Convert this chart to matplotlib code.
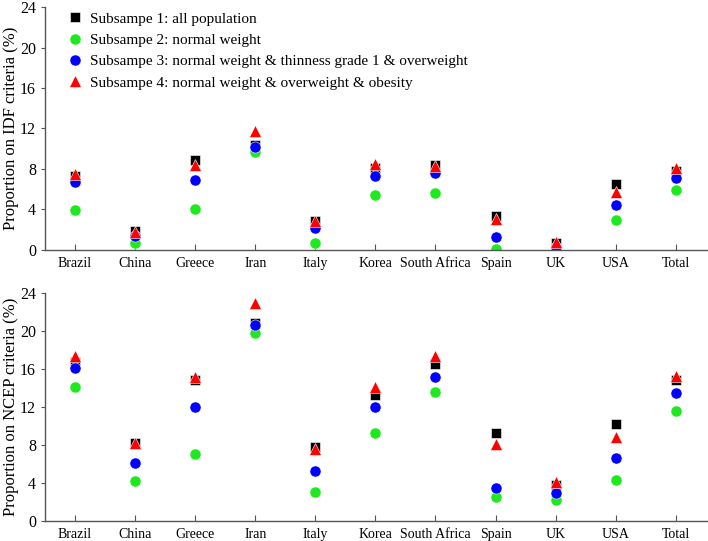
import numpy as np
import matplotlib
matplotlib.use("Agg")
import matplotlib.pyplot as plt

plt.rcParams['font.family'] = ['Liberation Serif', 'DejaVu Serif']

countries = ["Brazil", "China", "Greece", "Iran", "Italy", "Korea", "South Africa",
             "Spain", "UK", "USA", "Total"]

# IDF criteria (%)
idf_s1 = [7.3, 1.9, 8.85, 10.4, 2.9, 8.05, 8.4, 3.35, 0.7, 6.5, 7.8]
idf_s2 = [3.9, 0.65, 4.0, 9.7, 0.7, 5.45, 5.6, 0.05, 0.1, 3.0, 5.9]
idf_s3 = [6.7, 1.35, 6.9, 10.15, 2.2, 7.3, 7.6, 1.25, 0.3, 4.4, 7.1]
idf_s4 = [7.5, 1.8, 8.35, 11.75, 2.85, 8.5, 8.3, 3.1, 0.75, 5.7, 8.05]

# NCEP criteria (%)
ncep_s1 = [16.7, 8.2, 14.8, 20.8, 7.75, 13.3, 16.55, 9.25, 3.8, 10.2, 14.85]
ncep_s2 = [14.1, 4.25, 7.1, 19.8, 3.1, 9.3, 13.55, 2.5, 2.2, 4.3, 11.6]
ncep_s3 = [16.1, 6.1, 11.95, 20.6, 5.3, 12.0, 15.15, 3.45, 2.9, 6.6, 13.45]
ncep_s4 = [17.4, 8.2, 15.2, 22.9, 7.55, 14.1, 17.4, 8.1, 4.15, 8.8, 15.3]

labels = ["Subsampe 1: all population",
          "Subsampe 2: normal weight",
          "Subsampe 3: normal weight & thinness grade 1 & overweight",
          "Subsampe 4: normal weight & overweight & obesity"]

fig = plt.figure(figsize=(7.08, 5.41), dpi=100)
ax1 = fig.add_axes([0.0636, 0.538, 0.935, 0.449])
ax2 = fig.add_axes([0.0636, 0.037, 0.935, 0.4215])

x = np.arange(len(countries))


def draw(ax, s1, s2, s3, s4, ylabel):
    ax.plot(x, s1, 's', color='black', ms=7, mec='white', mew=0.4, label=labels[0])
    ax.plot(x, s2, 'o', color='#1ee81e', ms=8, mec='white', mew=0.4, label=labels[1])
    ax.plot(x, s3, 'o', color='#0000ff', ms=8, mec='white', mew=0.4, label=labels[2])
    ax.plot(x, s4, '^', color='#ff0000', ms=8.5, mec='white', mew=0.4, label=labels[3])
    ax.set_xlim(-0.5, 10.52)
    ax.set_ylim(0, 24)
    ax.set_yticks([0, 4, 8, 12, 16, 20, 24])
    ax.set_xticks(x)
    ax.set_xticklabels(countries)
    ax.spines['top'].set_visible(False)
    ax.spines['right'].set_visible(False)
    for s in ['left', 'bottom']:
        ax.spines[s].set_color('#555555')
        ax.spines[s].set_linewidth(1.0)
    ax.tick_params(axis='x', direction='in', length=4, color='#555555', labelsize=10, pad=5)
    ax.tick_params(axis='y', direction='out', length=3, color='#555555', labelsize=11.5)
    ax.set_ylabel(ylabel, fontsize=12)
    ax.yaxis.set_label_coords(-0.039, 0.5)


draw(ax1, idf_s1, idf_s2, idf_s3, idf_s4, "Proportion on IDF criteria (%)")
draw(ax2, ncep_s1, ncep_s2, ncep_s3, ncep_s4, "Proportion on NCEP criteria (%)")

ax1.legend(loc='upper left', frameon=False, fontsize=11, handletextpad=0.4,
           labelspacing=0.5, borderaxespad=0.0, bbox_to_anchor=(0.022, 1.005),
           handlelength=1.2)

fig.savefig("out.png", dpi=100)
